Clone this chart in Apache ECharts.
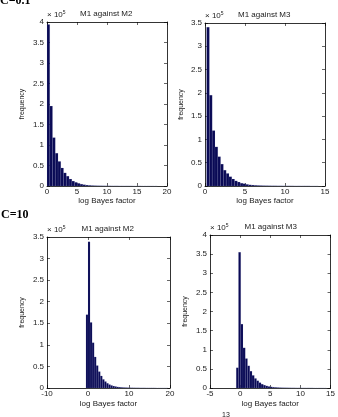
<!DOCTYPE html>
<html>
<head>
<meta charset="utf-8">
<script src="https://cdn.jsdelivr.net/npm/echarts@6/dist/echarts.min.js"></script>
<style>
  html, body { margin: 0; padding: 0; background: #fff; }
  #chart { width: 338px; height: 417px; }
</style>
</head>
<body>
<div id="chart"></div>
<script>
// histogram counts, x 10^5, 40 bins per panel
const titles = ['M1 against M2', 'M1 against M3', 'M1 against M2', 'M1 against M3']
const binStarts = [0, 0.2, -0.5, -0.65]
const binWidths = [0.46, 0.35, 0.5, 0.375]

const countsLowM2 = [3.94, 1.95, 1.18, 0.80, 0.60, 0.44, 0.32, 0.24, 0.17, 0.12,
  0.09, 0.065, 0.045, 0.032, 0.022, 0.016, 0.012, 0.009, 0.007, 0.006,
  0.005, 0.004, 0.004, 0.003, 0.003, 0.003, 0.002, 0.002, 0.002, 0.002,
  0.002, 0.001, 0.001, 0.002, 0.001, 0.001, 0.001, 0.001, 0.001, 0.001]
const countsLowM3 = [3.41, 1.95, 1.19, 0.84, 0.63, 0.47, 0.34, 0.27, 0.20, 0.15,
  0.11, 0.085, 0.06, 0.05, 0.035, 0.025, 0.02, 0.015, 0.012, 0.01,
  0.008, 0.007, 0.006, 0.005, 0.005, 0.004, 0.004, 0.003, 0.003, 0.003,
  0.003, 0.002, 0.002, 0.002, 0.002, 0.002, 0.002, 0.001, 0.001, 0.001]
const countsHighM2 = [1.70, 3.39, 1.52, 1.05, 0.72, 0.52, 0.38, 0.28, 0.20, 0.15,
  0.11, 0.08, 0.06, 0.045, 0.035, 0.025, 0.02, 0.015, 0.012, 0.01,
  0.008, 0.007, 0.006, 0.005, 0.004, 0.004, 0.003, 0.003, 0.003, 0.002,
  0.002, 0.002, 0.002, 0.002, 0.001, 0.001, 0.001, 0.001, 0.001, 0.001]
const countsHighM3 = [0.53, 3.55, 1.67, 1.05, 0.77, 0.58, 0.44, 0.33, 0.25, 0.19,
  0.14, 0.10, 0.075, 0.055, 0.04, 0.03, 0.022, 0.017, 0.013, 0.01,
  0.008, 0.007, 0.006, 0.005, 0.004, 0.004, 0.003, 0.003, 0.003, 0.002,
  0.002, 0.002, 0.002, 0.002, 0.001, 0.001, 0.001, 0.001, 0.001, 0.001]
const allCounts = [countsLowM2, countsLowM3, countsHighM2, countsHighM3]

const xRanges = [[0, 20, 5], [0, 15, 5], [-10, 20, 10], [-5, 15, 5]]
const yRanges = [[0, 4, 0.5], [0, 3.5, 0.5], [0, 3.5, 0.5], [0, 4, 0.5]]

// layout
const grids = [
  { left: 47, right: 171, top: 22, bottom: 231 },
  { left: 205, right: 13, top: 23, bottom: 231 },
  { left: 47, right: 168, top: 237, bottom: 29 },
  { left: 210, right: 5, top: 235, bottom: 29 },
]
const xNameGaps = [10, 10, 12, 12]
const yNameGaps = [21, 20, 21, 21]

const font = 'Liberation Sans, Arial, sans-serif'
const lineStyle = { color: '#000', width: 0.8 }

let xAxis = []
let yAxis = []
let series = []
let graphic = []

grids.forEach((g, i) => {
  const [xmin, xmax, xint] = xRanges[i]
  const [ymin, ymax, yint] = yRanges[i]
  const tick = { show: true, inside: true, length: 3, lineStyle: { color: '#000', width: 0.6 } }

  xAxis.push({
    type: 'value', gridIndex: i, min: xmin, max: xmax, interval: xint,
    axisLine: { onZero: false, lineStyle }, axisTick: tick, splitLine: { show: false },
    axisLabel: { fontSize: 8, fontFamily: font, color: '#222', margin: 2 },
    name: 'log Bayes factor', nameLocation: 'middle', nameGap: xNameGaps[i],
    nameTextStyle: { fontSize: 8, fontFamily: font, color: '#222' },
  })
  xAxis.push({
    type: 'value', gridIndex: i, position: 'top', min: xmin, max: xmax, interval: xint,
    axisLine: { onZero: false, lineStyle }, axisTick: tick, axisLabel: { show: false }, splitLine: { show: false },
  })
  yAxis.push({
    type: 'value', gridIndex: i, min: ymin, max: ymax, interval: yint,
    axisLine: { show: true, onZero: false, lineStyle }, axisTick: tick, splitLine: { show: false },
    axisLabel: { fontSize: 8, fontFamily: font, color: '#222', margin: 3 },
    name: 'frequency', nameLocation: 'middle', nameGap: yNameGaps[i],
    nameTextStyle: { fontSize: 7, fontFamily: font, color: '#222' },
  })
  yAxis.push({
    type: 'value', gridIndex: i, position: 'right', min: ymin, max: ymax, interval: yint,
    axisLine: { show: true, onZero: false, lineStyle }, axisTick: tick, axisLabel: { show: false }, splitLine: { show: false },
  })

  const data = allCounts[i].map((v, k) => {
    const x0 = binStarts[i] + k * binWidths[i]
    return [x0, x0 + binWidths[i], v]
  })
  series.push({
    type: 'custom',
    xAxisIndex: i * 2,
    yAxisIndex: i * 2,
    encode: { x: [0, 1], y: 2 },
    data: data,
    renderItem(params, api) {
      const p0 = api.coord([api.value(0), api.value(2)])
      const p1 = api.coord([api.value(1), 0])
      return {
        type: 'rect',
        shape: { x: p0[0], y: p0[1], width: p1[0] - p0[0], height: p1[1] - p0[1] },
        style: { fill: '#0a0a55', stroke: 'rgba(170,175,220,0.35)', lineWidth: 0.3 },
      }
    },
  })

  const plotLeft = g.left
  const plotRight = 338 - g.right
  graphic.push({
    type: 'text', left: (plotLeft + plotRight) / 2 - 27, top: g.top - 12,
    style: { text: titles[i], font: '8px ' + font, fill: '#222' },
  })
  graphic.push({
    type: 'text', left: plotLeft, top: g.top - 12,
    style: {
      text: '× 10{s|5}', font: '8px ' + font, fill: '#222',
      rich: { s: { fontSize: 5, fontFamily: font, verticalAlign: 'top', padding: [0, 0, 5, 0] } },
    },
  })
})

graphic.push({
  type: 'text', left: 0, top: -5,
  style: { text: 'C=0.1', font: 'bold 12px Liberation Serif, serif', fill: '#000' },
})
graphic.push({
  type: 'text', left: 1, top: 209,
  style: { text: 'C=10', font: 'bold 12px Liberation Serif, serif', fill: '#000' },
})
graphic.push({
  type: 'text', left: 222, top: 412,
  style: { text: '13', font: '7px ' + font, fill: '#222' },
})

const chart = echarts.init(document.getElementById('chart'))
chart.setOption({
  animation: false,
  grid: grids,
  xAxis: xAxis,
  yAxis: yAxis,
  series: series,
  graphic: graphic,
})
</script>
</body>
</html>
